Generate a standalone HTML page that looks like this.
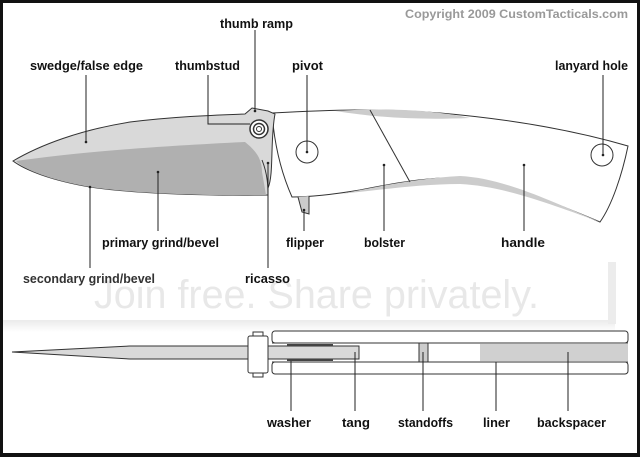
<!DOCTYPE html>
<html><head><meta charset="utf-8"><style>
html,body{margin:0;padding:0;background:#000}
svg{display:block}
text{font-family:"Liberation Sans",Arial,sans-serif;font-weight:bold;font-size:12.5px;fill:#111}
</style></head><body>
<svg width="640" height="457" viewBox="0 0 640 457" xmlns="http://www.w3.org/2000/svg">
<defs>
<linearGradient id="sh" x1="0" y1="0" x2="0" y2="1"><stop offset="0" stop-color="#e2e2e2"/><stop offset="1" stop-color="#fff"/></linearGradient>
</defs>
<rect x="0" y="0" width="640" height="457" fill="#111"/>
<rect x="3" y="3" width="634" height="450" fill="#fff"/>
<!-- watermark band -->
<rect x="3" y="320" width="612" height="12" fill="url(#sh)" opacity="0.7"/>
<rect x="608" y="262" width="8" height="62" fill="#ececec"/>
<text x="94" y="308" textLength="445" lengthAdjust="spacingAndGlyphs" style="font-weight:normal;font-size:40px;fill:#e8e8e8">Join free. Share privately.</text>

<text x="405" y="18" textLength="223" lengthAdjust="spacingAndGlyphs" style="font-size:12px;fill:#999">Copyright 2009 CustomTacticals.com</text>

<!-- handle -->
<path d="M272,113 C330,110 380,108 440,113 C520,120 580,132 628,146 C622,175 612,205 600,222 C560,205 510,185 470,179 C440,175 400,182 360,190 C330,195 305,197 292,197 C280,170 274,140 272,113 Z" fill="#fff" stroke="#333" stroke-width="1"/>
<path d="M335,111 C380,108 430,109 470,118 C420,120 380,118 335,111 Z" fill="#ccc"/>
<path d="M340,194 C380,186 420,178 460,176 C500,178 540,196 600,222 C540,200 500,186 460,184 C420,184 380,190 340,194 Z" fill="#ccc"/>
<line x1="370" y1="110" x2="410" y2="182" stroke="#333"/>
<!-- flipper -->
<path d="M298,197 L302,212 L309,214 L309,196" fill="#ccc" stroke="#333"/>
<!-- blade -->
<path d="M13,161 C40,145 80,130 130,122 C180,116 220,115 245,114 L252,108 L268,111 L275,114 C270,140 274,175 268,188 L268,195 C200,196 130,193 90,187 C50,180 25,170 13,161 Z" fill="#d9d9d9" stroke="#333"/>
<path d="M16,161 C60,155 120,148 245,142 C255,150 262,158 262,172 L266,195 C200,196 130,193 90,187 C50,180 25,170 16,161 Z" fill="#b0b0b0"/>
<path d="M262,160 C268,175 268,188 268,195" fill="none" stroke="#333"/>
<!-- thumbstud / pivot / lanyard -->
<circle cx="259" cy="129" r="9" fill="#fff" stroke="#333" stroke-width="1.5"/>
<circle cx="259" cy="129" r="5.5" fill="none" stroke="#333" stroke-width="1.5"/>
<circle cx="259" cy="129" r="2.5" fill="#fff" stroke="#333"/>
<circle cx="307" cy="152" r="11" fill="#fff" stroke="#333"/>
<circle cx="602" cy="155" r="11" fill="#fff" stroke="#333"/>

<!-- bottom view -->
<rect x="272" y="331" width="356" height="12" rx="3" fill="#fff" stroke="#333"/>
<rect x="272" y="362" width="356" height="12" rx="3" fill="#fff" stroke="#333"/>
<line x1="272" y1="343" x2="628" y2="343" stroke="#333"/>
<line x1="272" y1="362" x2="628" y2="362" stroke="#333"/>
<rect x="480" y="344" width="148" height="17" fill="#d0d0d0"/>
<rect x="419" y="343" width="9" height="19" fill="#ccc" stroke="#333"/>
<path d="M12,352 L130,346 L359,346 L359,359 L130,359 Z" fill="#d9d9d9" stroke="#333"/>
<rect x="287" y="344" width="46" height="2" fill="#444"/>
<rect x="287" y="359" width="46" height="2" fill="#444"/>
<rect x="248" y="336" width="20" height="37" rx="2" fill="#fff" stroke="#333"/>
<rect x="253" y="332" width="10" height="4" fill="#fff" stroke="#333"/>
<rect x="253" y="373" width="10" height="4" fill="#fff" stroke="#333"/>

<!-- leader lines -->
<g stroke="#222" stroke-width="1" fill="none">
<path d="M86,75 V142"/>
<path d="M208,75 V124 H250"/>
<path d="M255,30 V111"/>
<path d="M307,75 V152"/>
<path d="M603,75 V155"/>
<path d="M158,172 V231"/>
<path d="M304,210 V231"/>
<path d="M384,165 V231"/>
<path d="M524,165 V231"/>
<path d="M90,187 V268"/>
<path d="M268,163 V268"/>
<path d="M291,361 V411"/><path d="M355,352 V411"/><path d="M423,352 V411"/><path d="M496,362 V411"/><path d="M568,352 V411"/>
</g>
<g fill="#222"><circle cx="86" cy="142" r="1.3"/><circle cx="307" cy="152" r="1.3"/><circle cx="603" cy="155" r="1.3"/><circle cx="158" cy="172" r="1.3"/><circle cx="304" cy="210" r="1.3"/><circle cx="384" cy="165" r="1.3"/><circle cx="524" cy="165" r="1.3"/><circle cx="90" cy="187" r="1.3"/><circle cx="268" cy="163" r="1.3"/><circle cx="255" cy="111" r="1.3"/></g>

<g>
<text x="220" y="28" textLength="73" lengthAdjust="spacingAndGlyphs">thumb ramp</text>
<text x="30" y="70" textLength="113" lengthAdjust="spacingAndGlyphs">swedge/false edge</text>
<text x="175" y="70" textLength="65" lengthAdjust="spacingAndGlyphs">thumbstud</text>
<text x="292" y="70" textLength="31" lengthAdjust="spacingAndGlyphs">pivot</text>
<text x="555" y="70" textLength="73" lengthAdjust="spacingAndGlyphs">lanyard hole</text>
<text x="102" y="247" textLength="117" lengthAdjust="spacingAndGlyphs">primary grind/bevel</text>
<text x="286" y="247" textLength="38" lengthAdjust="spacingAndGlyphs">flipper</text>
<text x="364" y="247" textLength="41" lengthAdjust="spacingAndGlyphs">bolster</text>
<text x="501" y="247" textLength="44" lengthAdjust="spacingAndGlyphs">handle</text>
<text x="23" y="283" textLength="132" lengthAdjust="spacingAndGlyphs" style="fill:#333">secondary grind/bevel</text>
<text x="245" y="283" textLength="45" lengthAdjust="spacingAndGlyphs">ricasso</text>
<text x="267" y="427" textLength="44" lengthAdjust="spacingAndGlyphs">washer</text>
<text x="342" y="427" textLength="28" lengthAdjust="spacingAndGlyphs">tang</text>
<text x="398" y="427" textLength="55" lengthAdjust="spacingAndGlyphs">standoffs</text>
<text x="483" y="427" textLength="27" lengthAdjust="spacingAndGlyphs">liner</text>
<text x="537" y="427" textLength="69" lengthAdjust="spacingAndGlyphs">backspacer</text>
</g>
</svg>
</body></html>
